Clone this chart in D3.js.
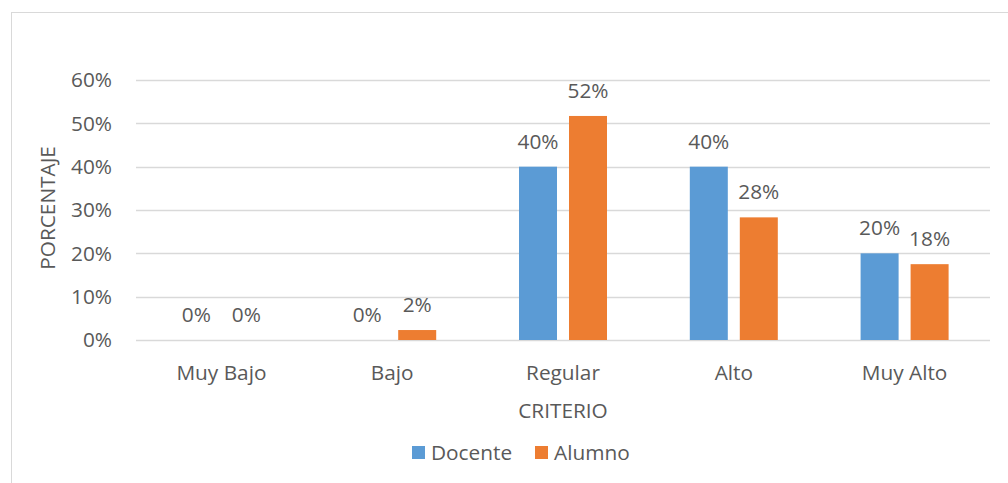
<!DOCTYPE html>
<html>
<head>
<meta charset="utf-8">
<script src="https://cdn.jsdelivr.net/npm/d3@7"></script>
<style>
  body { margin: 0; background: #fff; }
  text { font-family: "Open Sans", "Liberation Sans", sans-serif; fill: #595959; }
</style>
</head>
<body>
<svg width="1008" height="483"></svg>
<script>
var categories = ["Muy Bajo", "Bajo", "Regular", "Alto", "Muy Alto"];
var seriesNames = ["Docente", "Alumno"];
var docente = [0, 0, 0.40, 0.40, 0.20];
var alumno = [0, 0.023, 0.517, 0.283, 0.175];
var yTicks = [0, 0.1, 0.2, 0.3, 0.4, 0.5, 0.6];
var colors = ["#5B9BD5", "#ED7D31"];

var svg = d3.select("svg");
var width = +svg.attr("width");
var height = +svg.attr("height");
var fs = "20.8px";

// chart border
svg.append("rect")
    .attr("x", 11.5).attr("y", 12.5)
    .attr("width", width + 20).attr("height", height + 20)
    .attr("fill", "none").attr("stroke", "#d9d9d9");

var x0 = d3.scaleBand().domain(categories).range([136, 990]);
var x1 = d3.scaleBand().domain(seriesNames).range([x0.bandwidth() / 2 - 44, x0.bandwidth() / 2 + 44]).paddingInner(0.24);
var y = d3.scaleLinear().domain([0, 0.6]).range([340, 80]);
var fmt = d3.format(".0%");

// grid lines
svg.append("g").selectAll("line")
    .data(yTicks)
    .enter().append("line")
    .attr("x1", 136).attr("x2", 990)
    .attr("y1", function(d) { return Math.round(y(d)) + 0.5; })
    .attr("y2", function(d) { return Math.round(y(d)) + 0.5; })
    .attr("stroke", "#d9d9d9").attr("stroke-width", 1.5);

// y tick labels
svg.append("g").selectAll("text")
    .data(yTicks)
    .enter().append("text")
    .attr("x", 112)
    .attr("y", function(d) { return y(d); })
    .attr("dy", "0.35em")
    .attr("text-anchor", "end")
    .style("font-size", fs)
    .text(fmt);

var rows = categories.map(function(c, i) {
  return { cat: c, vals: [{ s: "Docente", v: docente[i] }, { s: "Alumno", v: alumno[i] }] };
});

var group = svg.append("g").selectAll("g")
    .data(rows)
    .enter().append("g")
    .attr("transform", function(d) { return "translate(" + x0(d.cat) + ",0)"; });

group.selectAll("rect")
    .data(function(d) { return d.vals; })
    .enter().append("rect")
    .attr("x", function(d) { return x1(d.s); })
    .attr("y", function(d) { return y(d.v); })
    .attr("width", x1.bandwidth())
    .attr("height", function(d) { return y(0) - y(d.v); })
    .attr("fill", function(d, i) { return colors[i]; });

group.selectAll("text")
    .data(function(d) { return d.vals; })
    .enter().append("text")
    .attr("x", function(d) { return x1(d.s) + x1.bandwidth() / 2; })
    .attr("y", function(d) { return y(d.v) - 18; })
    .attr("text-anchor", "middle")
    .style("font-size", fs)
    .text(function(d) { return fmt(d.v); });

// category labels
svg.append("g").selectAll("text")
    .data(categories)
    .enter().append("text")
    .attr("x", function(d) { return x0(d) + x0.bandwidth() / 2; })
    .attr("y", 380)
    .attr("text-anchor", "middle")
    .style("font-size", fs)
    .text(function(d) { return d; });

// axis titles
svg.append("text")
    .attr("x", 563).attr("y", 418)
    .attr("text-anchor", "middle")
    .style("font-size", fs)
    .text("CRITERIO");

svg.append("text")
    .attr("transform", "translate(55,208) rotate(-90)")
    .attr("text-anchor", "middle")
    .style("font-size", fs)
    .text("PORCENTAJE");

// legend
var legendX = [412, 535];
var legend = svg.append("g").selectAll("g")
    .data(seriesNames)
    .enter().append("g")
    .attr("transform", function(d, i) { return "translate(" + legendX[i] + ",446)"; });

legend.append("rect")
    .attr("width", 13).attr("height", 13)
    .attr("fill", function(d, i) { return colors[i]; });

legend.append("text")
    .attr("x", 19).attr("y", 6.5)
    .attr("dy", "0.35em")
    .style("font-size", fs)
    .text(function(d) { return d; });
</script>
</body>
</html>
